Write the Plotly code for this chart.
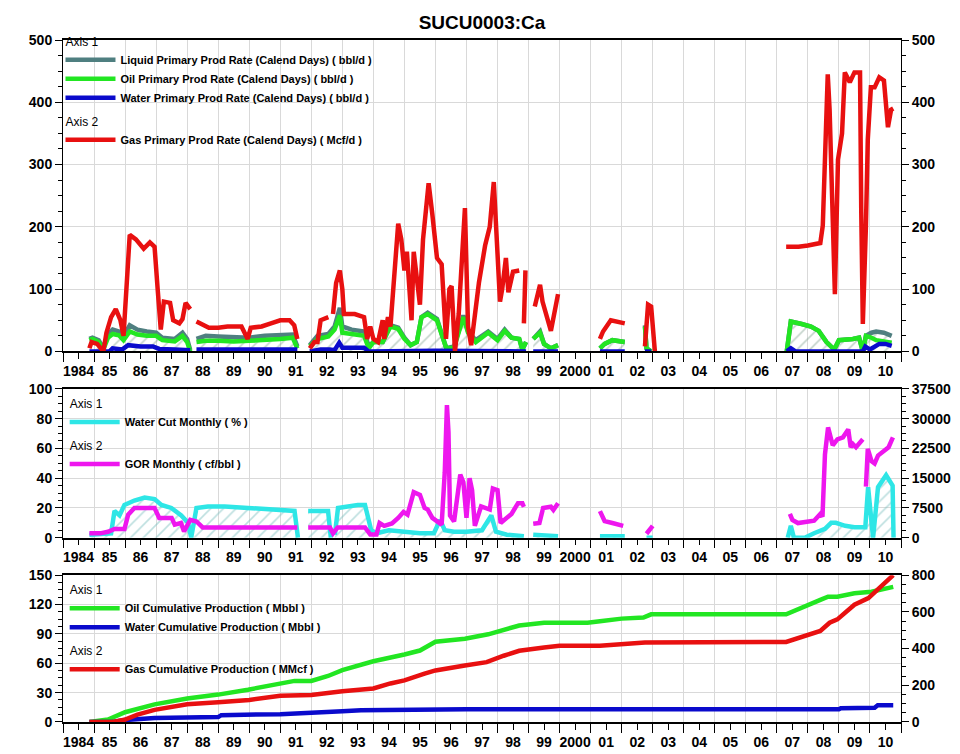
import plotly.graph_objects as go

# ---- data (decimal years, None = gap) ----
year_labels = ["1984", "85", "86", "87", "88", "89", "90", "91", "92", "93", "94", "95",
               "96", "97", "98", "99", "2000", "01", "02", "03", "04", "05", "06", "07",
               "08", "09", "10"]

gas_rate = [
    (1984.85, 5), (1984.92, 15), (1985.1, 12), (1985.3, 0), (1985.4, 30), (1985.55, 55),
    (1985.7, 68), (1985.85, 50), (1985.95, 25), (1986.05, 120), (1986.15, 187), (1986.35, 180),
    (1986.6, 165), (1986.8, 175), (1986.95, 168), (1987.05, 100), (1987.15, 35), (1987.25, 80),
    (1987.45, 78), (1987.55, 50), (1987.75, 45), (1987.85, 52), (1987.95, 78), (1988.1, 68),
    (None, None),
    (1988.3, 48), (1988.5, 42), (1988.7, 38), (1989.0, 38), (1989.3, 40), (1989.75, 40),
    (1989.95, 20), (1990.05, 38), (1990.4, 40), (1990.7, 45), (1991.0, 50), (1991.3, 50),
    (1991.45, 42), (1991.55, 20),
    (None, None),
    (1991.95, 5), (1992.1, 15), (1992.2, 15), (1992.3, 50), (1992.55, 55),
    (None, None),
    (1992.7, 60), (1992.8, 110), (1992.92, 130), (1993.0, 100), (1993.05, 60), (1993.4, 60),
    (1993.7, 55), (1993.8, 20), (1993.9, 40), (1994.0, 20), (1994.15, 15), (1994.3, 50),
    (1994.35, 20), (1994.47, 55), (1994.55, 40), (1994.7, 150), (1994.8, 205), (1994.9, 180),
    (1995.0, 130), (1995.08, 160), (1995.18, 90), (1995.23, 50), (1995.3, 160), (1995.4, 120),
    (1995.5, 75), (1995.6, 180), (1995.78, 270), (1995.9, 220), (1996.05, 150), (1996.2, 140),
    (1996.34, 20), (1996.45, 100), (1996.52, 105), (1996.63, 0), (1996.75, 60), (1996.95, 230),
    (1997.05, 40), (1997.15, 10), (1997.4, 110), (1997.6, 170), (1997.75, 200), (1997.88, 272),
    (1997.95, 200), (1998.08, 80), (1998.15, 100), (1998.27, 150), (1998.35, 95), (1998.5, 128),
    (1998.7, 130),
    (None, None),
    (1998.85, 45), (1998.9, 130),
    (None, None),
    (1999.2, 72), (1999.37, 107), (1999.45, 80), (1999.72, 33), (1999.95, 92),
    (None, None),
    (2001.3, 20), (2001.4, 32), (2001.65, 50), (2001.9, 48), (2002.1, 45),
    (None, None),
    (2002.75, 8), (2002.85, 75), (2002.95, 72), (2003.07, 0),
    (None, None),
    (2007.3, 168), (2007.7, 168), (2008.0, 170), (2008.4, 174), (2008.48, 202), (2008.55, 324),
    (2008.64, 445), (2008.7, 388), (2008.75, 292), (2008.87, 92), (2008.97, 308), (2009.1, 350),
    (2009.19, 448), (2009.35, 432), (2009.5, 448), (2009.68, 448), (2009.72, 223), (2009.77, 44),
    (2009.87, 202), (2009.93, 340), (2010.03, 424), (2010.15, 424), (2010.3, 440), (2010.45, 435),
    (2010.58, 360), (2010.68, 388), (2010.75, 390),
]

liquid_rate = [
    (1984.85, 20), (1984.95, 22), (1985.15, 18), (1985.3, 5), (1985.45, 28), (1985.6, 35),
    (1985.8, 32), (1985.95, 25), (1986.15, 42), (1986.4, 35), (1986.7, 32), (1987.0, 30),
    (1987.2, 22), (1987.6, 20), (1987.85, 30), (1988.0, 20), (1988.1, 2),
    (None, None),
    (1988.3, 20), (1988.6, 25), (1989.0, 24), (1989.5, 23), (1990.0, 22), (1990.5, 25),
    (1991.0, 27), (1991.4, 27), (1991.55, 8),
    (None, None),
    (1991.95, 10), (1992.2, 25), (1992.55, 28), (1992.75, 40), (1992.92, 70), (1993.0, 40),
    (1993.3, 35), (1993.7, 32), (1993.85, 8), (1994.0, 15), (1994.3, 15), (1994.55, 42),
    (1994.8, 38), (1995.0, 22), (1995.2, 10), (1995.4, 15), (1995.55, 55), (1995.75, 62),
    (1996.05, 52), (1996.2, 28), (1996.35, 5), (1996.6, 8), (1996.9, 58), (1997.05, 32),
    (1997.3, 18), (1997.7, 32), (1997.85, 25), (1998.0, 20), (1998.23, 35), (1998.45, 22),
    (1998.7, 20), (1998.8, 3), (1998.92, 15),
    (None, None),
    (1999.15, 20), (1999.37, 32), (1999.5, 12), (1999.72, 5), (1999.95, 10),
    (None, None),
    (2001.3, 5), (2001.45, 12), (2001.7, 18), (2002.1, 15),
    (None, None),
    (2002.75, 42), (2002.8, 5), (2002.95, 0),
    (None, None),
    (2007.32, 0), (2007.45, 48), (2007.8, 44), (2008.1, 40), (2008.35, 33), (2008.6, 15),
    (2008.85, 3), (2009.0, 18), (2009.45, 20), (2009.65, 22), (2009.77, 0), (2009.87, 25),
    (2010.05, 30), (2010.2, 32), (2010.45, 30), (2010.7, 25),
]

oil_rate = [
    (1984.85, 18), (1984.95, 20), (1985.15, 15), (1985.3, 3), (1985.45, 22), (1985.6, 28),
    (1985.8, 26), (1985.95, 18), (1986.15, 32), (1986.4, 27), (1986.7, 25), (1987.0, 25),
    (1987.2, 18), (1987.6, 16), (1987.85, 25), (1988.0, 15), (1988.1, 0),
    (None, None),
    (1988.3, 15), (1988.6, 17), (1989.0, 17), (1989.5, 16), (1990.0, 17), (1990.5, 18),
    (1991.0, 20), (1991.4, 22), (1991.55, 5),
    (None, None),
    (1991.95, 8), (1992.2, 20), (1992.55, 24), (1992.75, 35), (1992.92, 58), (1993.0, 30),
    (1993.3, 28), (1993.7, 25), (1993.85, 5), (1994.0, 15), (1994.3, 15), (1994.55, 40),
    (1994.8, 36), (1995.0, 20), (1995.2, 10), (1995.4, 15), (1995.55, 55), (1995.75, 60),
    (1996.05, 50), (1996.2, 25), (1996.35, 5), (1996.6, 6), (1996.9, 55), (1997.05, 30),
    (1997.3, 15), (1997.7, 30), (1997.85, 24), (1998.0, 18), (1998.23, 33), (1998.45, 22),
    (1998.7, 20), (1998.8, 3), (1998.92, 15),
    (None, None),
    (1999.15, 20), (1999.37, 30), (1999.5, 12), (1999.72, 5), (1999.95, 10),
    (None, None),
    (2001.3, 5), (2001.45, 12), (2001.7, 18), (2002.1, 15),
    (None, None),
    (2002.75, 40), (2002.8, 5), (2002.95, 0),
    (None, None),
    (2007.32, 0), (2007.45, 48), (2007.8, 44), (2008.1, 40), (2008.35, 33), (2008.6, 15),
    (2008.85, 3), (2009.0, 18), (2009.45, 20), (2009.65, 22), (2009.77, 0), (2009.87, 25),
    (2010.05, 22), (2010.2, 18), (2010.45, 16), (2010.7, 14),
]

water_rate = [
    (1984.85, 0), (1985.5, 0), (1985.6, 5), (1985.9, 3), (1986.1, 10), (1986.5, 8),
    (1986.9, 8), (1987.1, 4), (1987.6, 3), (1988.1, 2),
    (None, None),
    (1988.3, 3), (1991.55, 3),
    (None, None),
    (1991.95, 0), (1992.3, 3), (1992.6, 3), (1992.75, 2), (1992.9, 14), (1993.0, 6),
    (1993.7, 6), (1993.85, 0), (1996.0, 1), (1998.92, 0),
    (None, None),
    (1999.15, 0), (1999.95, 0),
    (None, None),
    (2001.3, 0), (2002.1, 0),
    (None, None),
    (2002.75, 0), (2002.95, 0),
    (None, None),
    (2007.32, 0), (2007.45, 5), (2007.6, 0), (2009.77, 0), (2009.85, 8), (2010.0, 3),
    (2010.3, 12), (2010.5, 12), (2010.7, 9),
]

water_cut = [
    (1984.85, 2), (1985.55, 3), (1985.66, 18), (1985.82, 15), (1985.98, 22), (1986.3, 25),
    (1986.63, 27), (1986.95, 26), (1987.17, 22), (1987.49, 20), (1987.81, 15), (1988.03, 10),
    (1988.13, 0), (1988.3, 20), (1988.67, 21), (1989.21, 21), (1989.96, 20), (1990.82, 19),
    (1991.46, 18), (1991.57, 0),
    (None, None),
    (1991.9, 18), (1992.54, 18), (1992.63, 0),
    (None, None),
    (1992.76, 2), (1992.86, 20), (1993.5, 22), (1993.73, 22), (1993.93, 5), (1994.1, 3),
    (1994.5, 5), (1995.0, 4), (1995.5, 3), (1995.95, 3), (1996.15, 12), (1996.3, 5),
    (1996.6, 4), (1997.0, 4), (1997.5, 5), (1997.8, 15), (1997.95, 4), (1998.3, 2),
    (1998.85, 1),
    (None, None),
    (1999.15, 2), (1999.95, 1),
    (None, None),
    (2001.3, 1), (2002.1, 1),
    (None, None),
    (2002.8, 0), (2003.0, 0),
    (None, None),
    (2007.35, 0), (2007.45, 8), (2007.55, 0), (2007.9, 0), (2008.2, 3), (2008.55, 6),
    (2008.75, 10), (2008.9, 10), (2009.2, 8), (2009.5, 7), (2009.85, 7), (2009.94, 34),
    (2010.1, 0), (2010.26, 34), (2010.52, 42), (2010.73, 35), (2010.76, 0),
]

gor = [
    (1984.85, 1100), (1985.2, 1100), (1985.45, 1500), (1985.66, 2200), (1985.98, 2200),
    (1986.1, 5800), (1986.3, 7500), (1986.95, 7500), (1987.1, 5000), (1987.5, 5000),
    (1987.6, 3300), (1987.8, 3700), (1987.9, 1600), (1988.1, 4500), (1988.3, 4100),
    (1988.5, 2600), (1991.55, 2600),
    (None, None),
    (1991.9, 2600), (1992.6, 2600), (1992.7, 1100), (1992.85, 2600), (1993.73, 2600),
    (1993.9, 800), (1994.1, 800), (1994.2, 3700), (1994.35, 3000), (1994.6, 3600),
    (1994.8, 5000), (1994.97, 6500), (1995.1, 5800), (1995.3, 11500), (1995.5, 10800),
    (1995.65, 7500), (1995.75, 7100), (1995.9, 5000), (1996.2, 3300), (1996.3, 16500),
    (1996.37, 33400), (1996.42, 26600), (1996.47, 5600), (1996.6, 4100), (1996.8, 15900),
    (1996.9, 14000), (1997.0, 5000), (1997.1, 15000), (1997.18, 12000), (1997.27, 3000),
    (1997.47, 7900), (1997.75, 7100), (1997.85, 12400), (1998.0, 12000), (1998.1, 3700),
    (1998.45, 6000), (1998.66, 8700), (1998.8, 8700), (1998.85, 7800),
    (None, None),
    (1999.15, 3500), (1999.35, 3700), (1999.47, 7500), (1999.72, 7800), (1999.8, 7000),
    (1999.95, 8700),
    (None, None),
    (2001.3, 6700), (2001.45, 4200), (2001.7, 3700), (2002.05, 3000),
    (None, None),
    (2002.8, 1000), (2003.0, 3000),
    (None, None),
    (2007.42, 6000), (2007.5, 4500), (2007.68, 3700), (2008.2, 4300), (2008.4, 6000),
    (2008.47, 5300), (2008.55, 21000), (2008.65, 27800), (2008.8, 23300), (2008.95, 24800),
    (2009.13, 25300), (2009.3, 27300), (2009.38, 22800), (2009.45, 23600), (2009.55, 22800),
    (2009.77, 24800),
    (None, None),
    (2009.87, 12900), (2009.93, 22400), (2010.05, 19300), (2010.15, 18700), (2010.26, 20700),
    (2010.45, 21800), (2010.6, 22800), (2010.74, 25300),
]

oil_cum = [
    (1984.85, 0), (1985.45, 2.5), (1986.0, 10), (1986.95, 18), (1988.0, 24), (1989.0, 28),
    (1989.96, 33), (1991.0, 40), (1991.46, 42), (1992.0, 42), (1992.54, 47), (1993.0, 53),
    (1994.0, 62), (1995.0, 69), (1995.5, 73), (1996.0, 82), (1996.95, 85), (1997.7, 89.6),
    (1998.2, 94.6), (1998.7, 98.6), (1999.5, 101.5), (2000.9, 101.5), (2001.3, 103),
    (2002.0, 105.6), (2002.7, 106.7), (2002.95, 110), (2007.3, 110), (2008.0, 120),
    (2008.42, 125), (2008.65, 128), (2008.95, 128), (2009.5, 131.5), (2010.05, 133),
    (2010.75, 138),
]

water_cum = [
    (1984.85, 0), (1985.6, 0), (1986.0, 2), (1986.95, 4), (1989.0, 5), (1989.1, 7),
    (1991.0, 8), (1992.0, 9), (1993.0, 11), (1993.6, 12), (1997.0, 13), (2009.0, 13),
    (2009.06, 14), (2010.15, 14.5), (2010.25, 17), (2010.75, 17),
]

gas_cum = [
    (1984.85, 0), (1985.6, 0), (1985.98, 12), (1986.4, 40), (1986.95, 66), (1988.0, 97),
    (1989.0, 107), (1990.0, 120), (1991.0, 143), (1992.0, 147), (1993.0, 168), (1994.0, 183),
    (1994.55, 210), (1995.0, 227), (1995.65, 263), (1996.0, 281), (1996.95, 308),
    (1997.65, 326), (1998.2, 361), (1998.7, 388), (1999.5, 406), (2000.0, 415),
    (2001.3, 415), (2002.0, 424), (2002.75, 433), (2007.3, 436), (2008.0, 472),
    (2008.4, 496), (2008.7, 541), (2008.95, 559), (2009.5, 639), (2009.95, 675),
    (2010.75, 800),
]


def xy(pairs):
    return [p[0] for p in pairs], [p[1] for p in pairs]


def segments(pairs):
    segs, cur = [], []
    for p in pairs:
        if p[0] is None:
            if cur:
                segs.append(cur)
            cur = []
        else:
            cur.append(p)
    if cur:
        segs.append(cur)
    return segs


FONT = "Liberation Sans"
GRID = "#d9d9d9"

fig = go.Figure()


def add_line(pairs, name, color, xaxis, yaxis, legend, group, gtitle, width=4.5, hatch=None):
    if hatch:
        # hatched area under the curve, one fill per continuous stretch
        for seg in segments(pairs):
            sx, sy = xy(seg)
            fig.add_trace(go.Scatter(
                x=sx, y=sy, mode="lines", line=dict(width=0), showlegend=False,
                xaxis=xaxis, yaxis=yaxis, fill="tozeroy", fillcolor="rgba(0,0,0,0)",
                fillpattern=dict(shape="/", fgcolor=hatch, bgcolor="rgba(0,0,0,0)",
                                 size=9, solidity=0.18),
                hoverinfo="skip"))
    x, y = xy(pairs)
    fig.add_trace(go.Scatter(
        x=x, y=y, mode="lines", name=name, connectgaps=False,
        line=dict(color=color, width=width),
        xaxis=xaxis, yaxis=yaxis, legend=legend,
        legendgroup=group, legendgrouptitle=dict(text=gtitle, font=dict(size=12, family=FONT)),
        hoverinfo="skip"))


# panel 1
add_line(liquid_rate, "Liquid Primary Prod Rate (Calend Days) ( bbl/d )", "#4f7f80",
         "x", "y", "legend", "p1a", "Axis 1", hatch="#8aa898")
add_line(oil_rate, "Oil Primary Prod Rate (Calend Days) ( bbl/d )", "#22e622",
         "x", "y", "legend", "p1a", "Axis 1")
add_line(water_rate, "Water Primary Prod Rate (Calend Days) ( bbl/d )", "#0a0acc",
         "x", "y", "legend", "p1a", "Axis 1")
add_line(gas_rate, "Gas Primary Prod Rate (Calend Days) ( Mcf/d )", "#e81010",
         "x", "y2", "legend", "p1b", "Axis 2")

# panel 2
add_line(water_cut, "Water Cut Monthly ( % )", "#2ee6e6",
         "x2", "y3", "legend2", "p2a", "Axis 1", hatch="#7cc0c0")
add_line(gor, "GOR Monthly ( cf/bbl )", "#ee16ee",
         "x2", "y4", "legend2", "p2b", "Axis 2")

# panel 3
add_line(oil_cum, "Oil Cumulative Production ( Mbbl )", "#22e622",
         "x3", "y5", "legend3", "p3a", "Axis 1")
add_line(water_cum, "Water Cumulative Production ( Mbbl )", "#0a0acc",
         "x3", "y5", "legend3", "p3a", "Axis 1")
add_line(gas_cum, "Gas Cumulative Production ( MMcf )", "#e81010",
         "x3", "y6", "legend3", "p3b", "Axis 2")

tickfont = dict(family=FONT, size=14, color="black", weight="bold")
years_mid = [1984.5 + i for i in range(len(year_labels))]


def xaxis_cfg(anchor):
    return dict(
        range=[1984, 2011], anchor=anchor,
        tickmode="array", tickvals=years_mid, ticktext=year_labels,
        ticks="outside", ticklen=6, tickcolor="black", showgrid=False,
        minor=dict(tickmode="linear", tick0=1984, dtick=1, ticks="outside", ticklen=9,
                   tickcolor="black", showgrid=True, gridcolor=GRID, gridwidth=1),
        showline=True, linecolor="black", linewidth=1.5, mirror=True,
        tickfont=tickfont, zeroline=False,
    )


def yaxis_cfg(rng, dtick, minor, anchor, domain=None, overlay=None):
    d = dict(
        range=rng, dtick=dtick, tick0=0, anchor=anchor, tickformat="d",
        ticks="outside", ticklen=7, tickcolor="black",
        minor=dict(dtick=minor, tick0=0, ticks="outside", ticklen=4, tickcolor="black"),
        showline=True, linecolor="black", linewidth=1,
        tickfont=tickfont, zeroline=False,
    )
    if overlay:
        d.update(overlaying=overlay, side="right", showgrid=False)
    else:
        d.update(domain=domain, side="left", showgrid=True, gridcolor=GRID)
    return d


fig.update_layout(
    width=960, height=754,
    margin=dict(l=55, r=67, t=32, b=30),
    paper_bgcolor="white", plot_bgcolor="white",
    font=dict(family=FONT, color="black"),
    title=dict(text="SUCU0003:Ca", x=0.5, xref="paper", y=0.981, yanchor="middle",
               font=dict(family=FONT, size=19, color="black", weight="bold")),
    xaxis=xaxis_cfg("y"),
    xaxis2=xaxis_cfg("y3"),
    xaxis3=xaxis_cfg("y5"),
    yaxis=yaxis_cfg([0, 500], 100, 25, "x", domain=[0.5434, 1.0]),
    yaxis2=yaxis_cfg([0, 500], 100, 25, "x", overlay="y"),
    yaxis3=yaxis_cfg([0, 100], 20, 5, "x2", domain=[0.2702, 0.4884]),
    yaxis4=yaxis_cfg([0, 37500], 7500, 1875, "x2", overlay="y3"),
    yaxis5=yaxis_cfg([0, 150], 30, 7.5, "x3", domain=[0.0, 0.2153]),
    yaxis6=yaxis_cfg([0, 800], 200, 50, "x3", overlay="y5"),
    showlegend=True,
)

legend_common = dict(
    bgcolor="rgba(0,0,0,0)", borderwidth=0, xanchor="left", yanchor="top",
    font=dict(family=FONT, size=11, color="black", weight="bold"),
    tracegroupgap=4, itemwidth=50, itemclick=False, itemdoubleclick=False,
)
fig.update_layout(
    legend=dict(legend_common, x=-0.003, y=1.02),
    legend2=dict(legend_common, x=0.002, y=0.489),
    legend3=dict(legend_common, x=0.002, y=0.216),
)

fig.write_html("out.html")
